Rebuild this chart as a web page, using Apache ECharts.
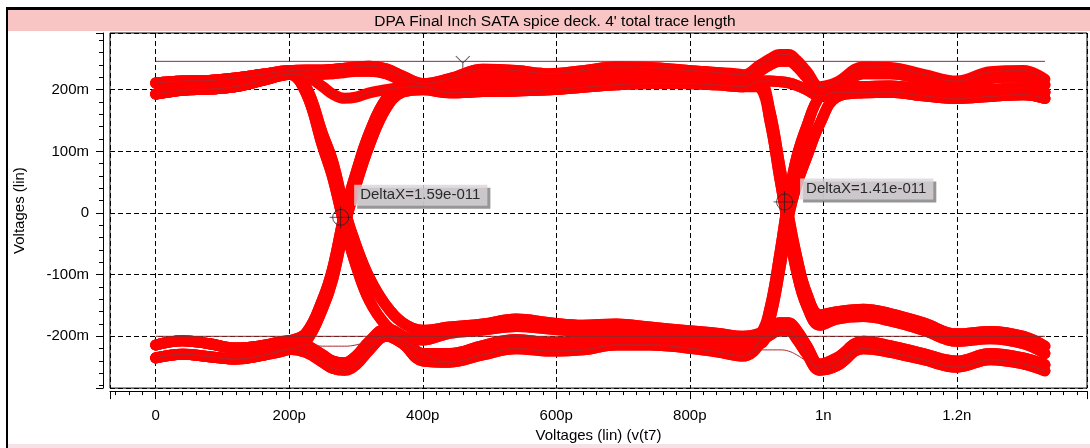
<!DOCTYPE html>
<html>
<head>
<meta charset="utf-8">
<title>DPA Final Inch SATA spice deck</title>
<script src="https://cdn.jsdelivr.net/npm/echarts@6/dist/echarts.min.js"></script>
<style>
  html, body { margin: 0; padding: 0; background: #fff; }
  #chart { width: 1090px; height: 448px; }
</style>
</head>
<body>
<div id="chart"></div>
<script>
// sample times (ps), one array per part of the 2-UI window
const preT = [0, 40, 80, 120, 160, 200];
const t1T = [225, 250, 265, 283, 300, 320, 345, 370, 400];
const midT = [440, 490, 540, 590, 640, 690, 740, 790, 840, 880];
const t2T = [905, 920, 935, 948, 960, 975, 995, 1020];
const postT = [1060, 1100, 1150, 1200, 1250, 1300, 1332];

// voltages (mV), A / B = upper / lower strand of a band
const preHiA = [211, 214, 215, 219, 225, 231];
const preHiB = [193, 199, 201, 205, 215, 225];
const preLoA = [-214, -207, -212, -219, -215, -207];
const preLoB = [-235, -229, -233, -237, -231, -221];

const t1FallA = [205, 128, 84, 5, -52, -105, -150, -178, -190];
const t1FallB = [195, 108, 58, -22, -85, -142, -182, -200, -206];
const t1RiseA = [-195, -140, -90, 0, 65, 130, 185, 205, 208];
const t1RiseB = [-208, -155, -108, -20, 45, 110, 170, 196, 200];
const t1HiBumpA = [232, 232, 233, 235, 237, 238, 234, 222, 210];
const t1HiBumpB = [226, 225, 226, 228, 230, 230, 226, 214, 202];
const t1HiDip = [222, 205, 193, 186, 188, 195, 200, 204, 205];
const t1LoDipA = [-214, -230, -240, -243, -232, -208, -188, -200, -228];
const t1LoDipB = [-226, -242, -252, -255, -246, -222, -200, -212, -240];
const t1LoFlat = [-214, -216, -216, -216, -214, -208, -200, -206, -226];

const midHiUpA = [218, 233, 231, 226, 231, 237, 236, 232, 228, 224];
const midHiUpB = [208, 222, 222, 218, 222, 227, 226, 222, 218, 214];
const midHiLoA = [205, 208, 210, 210, 214, 218, 220, 220, 218, 214];
const midHiLoB = [195, 197, 198, 200, 204, 208, 210, 210, 208, 205];
const midLoUpA = [-185, -180, -172, -178, -182, -180, -185, -190, -195, -200];
const midLoUpB = [-195, -190, -184, -188, -192, -192, -196, -200, -205, -210];
const midLoLoA = [-228, -215, -205, -210, -208, -200, -202, -205, -210, -218];
const midLoLoB = [-242, -230, -220, -224, -222, -214, -214, -218, -225, -232];

const t2FallA = [212, 165, 75, -5, -70, -130, -165, -160];
const t2FallB = [205, 150, 55, -25, -95, -150, -182, -172];
const t2RiseA = [-198, -155, -65, 25, 90, 140, 190, 207];
const t2RiseB = [-212, -172, -90, -5, 45, 90, 145, 188];
const t2HiBumpA = [240, 250, 257, 257, 248, 230, 205, 212];
const t2HiBumpB = [230, 240, 246, 246, 238, 220, 196, 202];
const t2HiFlat = [214, 214, 213, 211, 207, 200, 190, 196];
const t2LoBumpA = [-195, -185, -178, -178, -190, -215, -245, -235];
const t2LoBumpB = [-208, -198, -190, -190, -204, -228, -255, -248];
const t2LoFlat = [-222, -222, -222, -224, -230, -240, -250, -240];

const postHiUpA = [237, 236, 225, 214, 229, 231, 217];
const postHiUpB = [226, 226, 216, 205, 218, 221, 208];
const postHiLoA = [205, 206, 200, 196, 200, 203, 196];
const postHiLoB = [195, 196, 190, 186, 189, 192, 186];
const postLoUpA = [-156, -163, -178, -196, -192, -200, -216];
const postLoUpB = [-168, -175, -190, -208, -204, -212, -228];
const postLoLoA = [-208, -215, -228, -240, -228, -235, -246];
const postLoLoB = [-220, -226, -238, -250, -238, -245, -256];

// which pieces make up each thick trace
const traces = [
  [preHiA, t1HiBumpA, midHiUpA, t2HiBumpA, postHiUpA],
  [preHiB, t1HiBumpB, midHiUpB, t2HiBumpB, postHiUpB],
  [preHiA, t1HiBumpA, midHiUpA, t2FallA, postLoUpA],
  [preHiB, t1HiBumpB, midHiUpB, t2FallB, postLoUpB],
  [preHiA, t1FallA, midLoUpA, t2RiseA, postHiLoA],
  [preHiB, t1FallB, midLoUpB, t2RiseB, postHiLoB],
  [preHiA, t1FallA, midLoUpA, t2LoBumpA, postLoLoA],
  [preHiB, t1FallB, midLoUpB, t2LoBumpB, postLoLoB],
  [preLoA, t1RiseA, midHiLoA, t2HiFlat, postHiLoA],
  [preLoB, t1RiseB, midHiLoB, t2HiBumpB, postHiUpB],
  [preLoA, t1RiseA, midHiLoA, t2FallA, postLoUpA],
  [preLoB, t1RiseB, midHiLoB, t2FallB, postLoUpB],
  [preLoA, t1LoDipA, midLoLoA, t2RiseA, postHiLoA],
  [preLoB, t1LoDipB, midLoLoB, t2RiseB, postHiLoB],
  [preLoA, t1LoDipA, midLoLoA, t2LoBumpA, postLoLoA],
  [preLoB, t1LoDipB, midLoLoB, t2LoBumpB, postLoLoB],
  [preHiB, t1HiDip, midHiLoB, t2HiFlat, postHiLoB],
];
// single traces drawn thin and dark on top
const thinTraces = [
  [preLoB, t1LoFlat, midLoLoB, t2LoFlat, postLoLoB],
  [preHiB, t1HiDip, midHiLoB, t2HiFlat, postHiLoB],
  [preHiA, t1HiBumpA, midHiUpA, t2HiBumpA, postHiUpA],
  [preLoB, t1LoDipB, midLoLoB, t2LoBumpB, postLoLoB],
];

// cursor lines and markers
const refT = [0, 1332];
const refHiV = [246, 246];
const refLoV = [-200, -200];
const cursorT = [277, 942];
const cursorV = [-7, 18];
const cursorText = ['DeltaX=1.59e-011', 'DeltaX=1.41e-011'];
const markT = [460];
const markV = [245];

const timePs = [].concat(preT, t1T, midT, t2T, postT);
const FONT = '"Liberation Sans", Arial, sans-serif';

function toPoints(parts) {
  const v = [].concat(...parts);
  return v.map((y, i) => [timePs[i], y]);
}

const chart = echarts.init(document.getElementById('chart'));

const series = traces.map((parts, i) => ({
  name: 'trace ' + (i + 1),
  type: 'line',
  data: toPoints(parts),
  showSymbol: false,
  smooth: 0.4,
  silent: true,
  z: 2,
  lineStyle: { color: '#ff0000', width: 11, cap: 'round', join: 'round' },
}));

thinTraces.forEach((parts, i) => {
  series.push({
    name: 'thin ' + (i + 1),
    type: 'line',
    data: toPoints(parts),
    showSymbol: false,
    smooth: 0.4,
    silent: true,
    z: 3,
    lineStyle: { color: '#b3262a', width: 1 },
  });
});

series.push({
  name: 'ref hi', type: 'line', silent: true, showSymbol: false, z: 5,
  data: refT.map((t, i) => [t, refHiV[i]]),
  lineStyle: { color: '#9a2838', width: 1 },
});
series.push({
  name: 'ref lo', type: 'line', silent: true, showSymbol: false, z: 5,
  data: refT.map((t, i) => [t, refLoV[i]]),
  lineStyle: { color: '#8a2a2a', width: 1 },
});
series.push({
  name: 'cursors', type: 'scatter', silent: true, z: 10,
  data: cursorT.map((t, i) => [t, cursorV[i], cursorText[i]]),
  symbol: 'path://M8 0A8 8 0 1 1 -8 0A8 8 0 1 1 8 0ZM-11 0L11 0M0 -11L0 11',
  symbolSize: 22,
  itemStyle: { color: 'rgba(0,0,0,0)', borderColor: '#222', borderWidth: 1 },
  label: {
    show: true,
    position: 'right',
    distance: 0,
    formatter: p => p.value[2],
    fontFamily: FONT,
    fontSize: 15,
    color: '#000',
    backgroundColor: '#d9d3d7',
    padding: [3, 7, 3, 6],
    shadowColor: '#7c7c7c',
    shadowOffsetX: 3,
    shadowOffsetY: 3,
    shadowBlur: 0,
  },
  labelLayout: p => ({ dx: p.dataIndex === 0 ? 2 : 4, dy: p.dataIndex === 0 ? -22 : -13 }),
});
series.push({
  name: 'mark', type: 'scatter', silent: true, z: 10,
  data: markT.map((t, i) => [t, markV[i]]),
  symbol: 'path://M-7 -7L0 0L7 -7M0 0L0 5',
  symbolSize: [14, 12],
  itemStyle: { color: 'rgba(0,0,0,0)', borderColor: '#333', borderWidth: 1 },
});

function fmtX(v) {
  if (Math.abs(v % 200) > 1e-6) return '';
  if (v === 0) return '0';
  return v >= 1000 ? (v / 1000) + 'n' : v + 'p';
}
function fmtY(v) {
  if (Math.abs(v % 100) > 1e-6) return '';
  return v === 0 ? '0' : v + 'm';
}

const option = {
  animation: false,
  backgroundColor: '#fff',
  grid: {
    left: 110, top: 33, right: -2, bottom: 59,
    show: true, borderColor: '#000', borderWidth: 1, backgroundColor: 'transparent',
  },
  xAxis: {
    type: 'value',
    min: -68.5,
    max: 1395,
    splitNumber: 7,
    offset: 3,
    name: 'Voltages (lin) (v(t7)',
    nameLocation: 'middle',
    nameGap: 36,
    nameTextStyle: { fontFamily: FONT, fontSize: 15, color: '#000' },
    axisLine: { show: true, onZero: false, lineStyle: { color: '#000', width: 1 } },
    axisTick: { show: true, length: 8, lineStyle: { color: '#000' } },
    minorTick: { show: true, splitNumber: 10, length: 4, lineStyle: { color: '#000' } },
    axisLabel: { margin: 17, fontFamily: FONT, fontSize: 15, color: '#000', formatter: fmtX },
    splitLine: { show: true, lineStyle: { color: '#000', width: 1, type: [5, 3] } },
  },
  yAxis: {
    type: 'value',
    min: -284,
    max: 292,
    splitNumber: 5,
    offset: 7,
    name: 'Voltages (lin)',
    nameLocation: 'middle',
    nameGap: 76,
    nameRotate: 90,
    nameTextStyle: { fontFamily: FONT, fontSize: 15, color: '#000' },
    axisLine: { show: true, onZero: false, lineStyle: { color: '#000', width: 1 } },
    axisTick: { show: true, length: 7, lineStyle: { color: '#000' } },
    minorTick: { show: true, splitNumber: 5, length: 4, lineStyle: { color: '#000' } },
    axisLabel: { margin: 14, fontFamily: FONT, fontSize: 15, color: '#000', formatter: fmtY },
    splitLine: { show: true, lineStyle: { color: '#000', width: 1, type: [5, 3] } },
  },
  graphic: [
    { type: 'rect', z: 100, shape: { x: 8, y: 10, width: 1082, height: 21 },
      style: { fill: '#f8c4c4' } },
    { type: 'text', z: 101, x: 555, y: 22,
      style: { text: "DPA Final Inch SATA spice deck. 4' total trace length",
        font: '15.5px ' + FONT, fill: '#000', align: 'center', verticalAlign: 'middle' } },
    { type: 'rect', z: 100, shape: { x: 6, y: 7, width: 1084, height: 3 }, style: { fill: '#000' } },
    { type: 'rect', z: 100, shape: { x: 6, y: 7, width: 2, height: 441 }, style: { fill: '#000' } },
    { type: 'rect', z: 100, shape: { x: 8, y: 444, width: 1082, height: 4 }, style: { fill: '#f6e1e6' } },
  ],
  series: series,
};

chart.setOption(option);
window.addEventListener('resize', () => { chart.resize(); });
</script>
</body>
</html>
